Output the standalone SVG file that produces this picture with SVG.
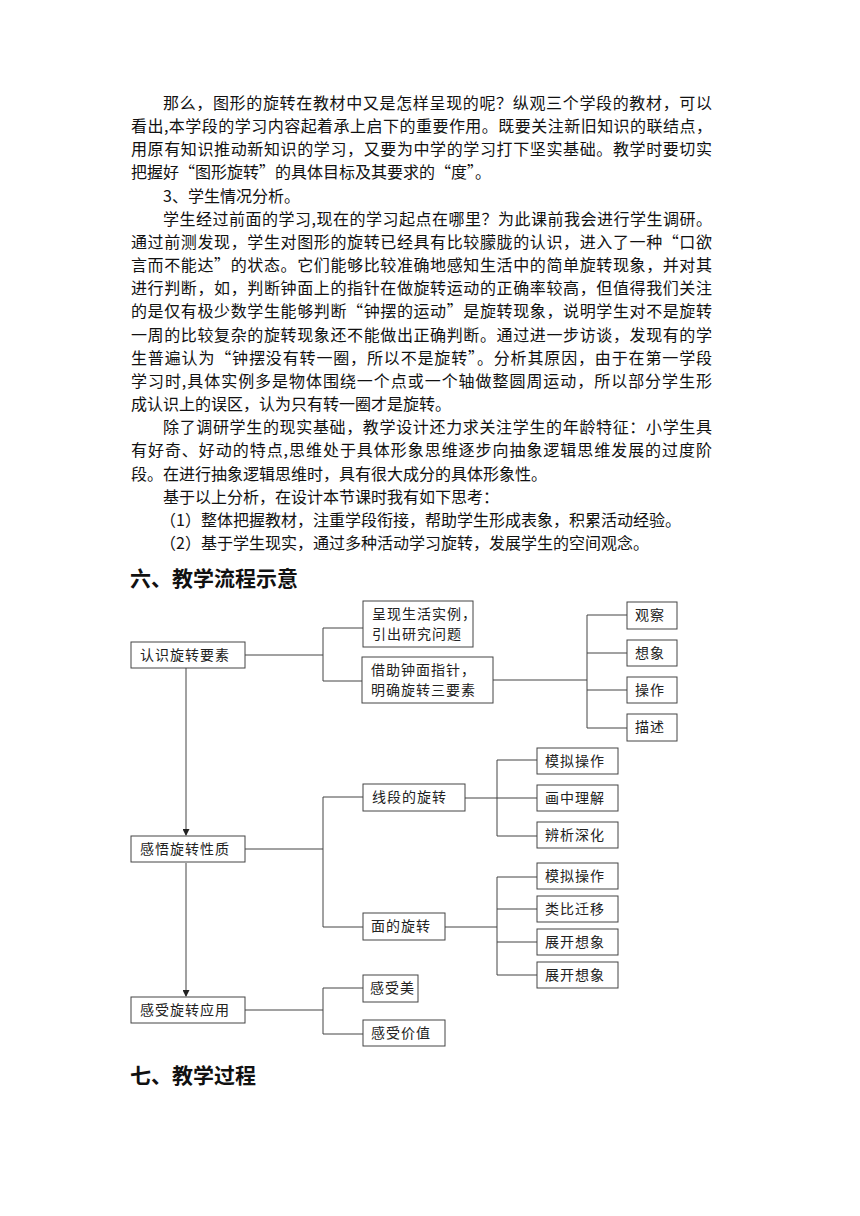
<svg xmlns="http://www.w3.org/2000/svg" width="860" height="1216" viewBox="0 0 860 1216">
<style>
.t{font-family:"Noto Sans CJK SC","Liberation Sans",sans-serif;font-size:16px;fill:#111}
.h{font-family:"Noto Sans CJK SC","Liberation Sans",sans-serif;font-size:21px;font-weight:bold;fill:#111}
.b rect{fill:#fff;stroke:#444;stroke-width:1}
.b text{font-family:"Noto Sans CJK SC","Liberation Sans",sans-serif;font-size:14px;fill:#222;letter-spacing:1px}
.c{fill:none;stroke:#444;stroke-width:1}
</style>
<defs>
<marker id="ar" markerWidth="7" markerHeight="7" refX="6" refY="3.5" orient="auto" markerUnits="userSpaceOnUse">
<path d="M0,0 L7,3.5 L0,7 Z" fill="#222"/>
</marker>
</defs>
<rect width="860" height="1216" fill="#fff"/>
<g id="body">
<text class="t" x="163" y="109" textLength="549" lengthAdjust="spacing">那么，图形的旋转在教材中又是怎样呈现的呢？纵观三个学段的教材，可以</text>
<text class="t" x="131" y="132" textLength="581" lengthAdjust="spacing">看出,本学段的学习内容起着承上启下的重要作用。既要关注新旧知识的联结点，</text>
<text class="t" x="131" y="155" textLength="581" lengthAdjust="spacing">用原有知识推动新知识的学习，又要为中学的学习打下坚实基础。教学时要切实</text>
<text class="t" x="131" y="178">把握好“图形旋转”的具体目标及其要求的“度”。</text>
<text class="t" x="163" y="202">3、学生情况分析。</text>
<text class="t" x="163" y="225" textLength="549" lengthAdjust="spacing">学生经过前面的学习,现在的学习起点在哪里？为此课前我会进行学生调研。</text>
<text class="t" x="131" y="248" textLength="581" lengthAdjust="spacing">通过前测发现，学生对图形的旋转已经具有比较朦胧的认识，进入了一种“口欲</text>
<text class="t" x="131" y="271" textLength="581" lengthAdjust="spacing">言而不能达”的状态。它们能够比较准确地感知生活中的简单旋转现象，并对其</text>
<text class="t" x="131" y="294" textLength="581" lengthAdjust="spacing">进行判断，如，判断钟面上的指针在做旋转运动的正确率较高，但值得我们关注</text>
<text class="t" x="131" y="317" textLength="581" lengthAdjust="spacing">的是仅有极少数学生能够判断“钟摆的运动”是旋转现象，说明学生对不是旋转</text>
<text class="t" x="131" y="341" textLength="581" lengthAdjust="spacing">一周的比较复杂的旋转现象还不能做出正确判断。通过进一步访谈，发现有的学</text>
<text class="t" x="131" y="364" textLength="581" lengthAdjust="spacing">生普遍认为“钟摆没有转一圈，所以不是旋转”。分析其原因，由于在第一学段</text>
<text class="t" x="131" y="387" textLength="581" lengthAdjust="spacing">学习时,具体实例多是物体围绕一个点或一个轴做整圆周运动，所以部分学生形</text>
<text class="t" x="131" y="410">成认识上的误区，认为只有转一圈才是旋转。</text>
<text class="t" x="163" y="433" textLength="549" lengthAdjust="spacing">除了调研学生的现实基础，教学设计还力求关注学生的年龄特征：小学生具</text>
<text class="t" x="131" y="456" textLength="581" lengthAdjust="spacing">有好奇、好动的特点,思维处于具体形象思维逐步向抽象逻辑思维发展的过度阶</text>
<text class="t" x="131" y="480">段。在进行抽象逻辑思维时，具有很大成分的具体形象性。</text>
<text class="t" x="163" y="503">基于以上分析，在设计本节课时我有如下思考：</text>
<text class="t" x="160" y="526">（1）整体把握教材，注重学段衔接，帮助学生形成表象，积累活动经验。</text>
<text class="t" x="160" y="549">（2）基于学生现实，通过多种活动学习旋转，发展学生的空间观念。</text>
<text class="h" x="130" y="586">六、教学流程示意</text>
<text class="h" x="130" y="1083">七、教学过程</text>
</g>
<g id="connectors">
<path class="c" d="M245,655 H323 M323,628 V681 M323,628 H363 M323,681 H362"/>
<path class="c" d="M493,680 H587 M587,615 V728 M587,615 H627 M587,653 H627 M587,690 H627 M587,728 H627"/>
<path class="c" d="M186,668 V835" marker-end="url(#ar)"/>
<path class="c" d="M245,849 H323 M323,797 V927 M323,797 H363 M323,927 H363"/>
<path class="c" d="M465,798 H497 M497,760 V836 M497,760 H537 M497,798 H537 M497,836 H537"/>
<path class="c" d="M445,927 H497 M497,877 V975 M497,877 H537 M497,909 H537 M497,942 H537 M497,975 H537"/>
<path class="c" d="M186,863 V996" marker-end="url(#ar)"/>
<path class="c" d="M245,1010 H323 M323,988 V1034 M323,988 H363 M323,1034 H363"/>
</g>
<g id="n1" class="b"><rect x="131" y="642" width="114" height="26"/><text x="140" y="660">认识旋转要素</text></g>
<g id="n2" class="b"><rect x="363" y="601" width="110" height="46"/><text x="372" y="619">呈现生活实例，</text><text x="372" y="639">引出研究问题</text></g>
<g id="n3" class="b"><rect x="362" y="657" width="131" height="46"/><text x="371" y="675">借助钟面指针，</text><text x="371" y="695">明确旋转三要素</text></g>
<g id="n4" class="b"><rect x="627" y="602" width="50" height="27"/><text x="635" y="620">观察</text></g>
<g id="n5" class="b"><rect x="627" y="640" width="50" height="26"/><text x="635" y="658">想象</text></g>
<g id="n6" class="b"><rect x="627" y="677" width="50" height="26"/><text x="635" y="695">操作</text></g>
<g id="n7" class="b"><rect x="627" y="714" width="50" height="27"/><text x="635" y="732">描述</text></g>
<g id="n8" class="b"><rect x="131" y="836" width="114" height="26"/><text x="140" y="854">感悟旋转性质</text></g>
<g id="n9" class="b"><rect x="363" y="784" width="102" height="27"/><text x="372" y="802">线段的旋转</text></g>
<g id="n10" class="b"><rect x="537" y="748" width="81" height="26"/><text x="545" y="766">模拟操作</text></g>
<g id="n11" class="b"><rect x="537" y="785" width="81" height="26"/><text x="545" y="803">画中理解</text></g>
<g id="n12" class="b"><rect x="537" y="822" width="81" height="26"/><text x="545" y="840">辨析深化</text></g>
<g id="n13" class="b"><rect x="363" y="913" width="82" height="27"/><text x="371" y="931">面的旋转</text></g>
<g id="n14" class="b"><rect x="537" y="863" width="81" height="26"/><text x="545" y="881">模拟操作</text></g>
<g id="n15" class="b"><rect x="537" y="896" width="81" height="26"/><text x="545" y="914">类比迁移</text></g>
<g id="n16" class="b"><rect x="537" y="929" width="81" height="26"/><text x="545" y="947">展开想象</text></g>
<g id="n17" class="b"><rect x="537" y="962" width="81" height="26"/><text x="545" y="980">展开想象</text></g>
<g id="n18" class="b"><rect x="131" y="997" width="114" height="26"/><text x="140" y="1015">感受旋转应用</text></g>
<g id="n19" class="b"><rect x="363" y="975" width="55" height="27"/><text x="370" y="993">感受美</text></g>
<g id="n20" class="b"><rect x="363" y="1020" width="82" height="26"/><text x="371" y="1038">感受价值</text></g>
</svg>
